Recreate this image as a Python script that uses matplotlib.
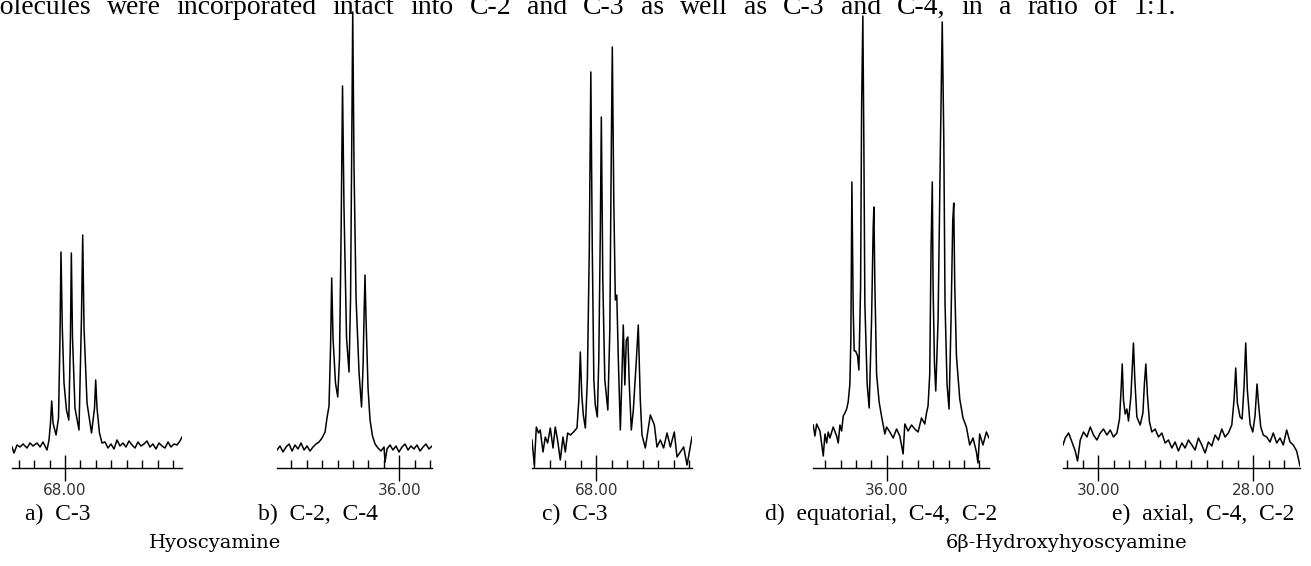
import matplotlib
matplotlib.use("Agg")
import matplotlib.pyplot as plt

W, H = 1311, 566

# ---- spectra: chemical shift (ppm) and intensity (a.u.) ----
a_ppm = [68.686, 68.660, 68.621, 68.582, 68.543, 68.492, 68.453, 68.414, 68.362, 68.323,
         68.285, 68.233, 68.207, 68.188, 68.172, 68.155, 68.116, 68.084, 68.065, 68.052,
         68.035, 68.013, 67.981, 67.951, 67.930, 67.918, 67.903, 67.871, 67.819, 67.787,
         67.771, 67.754, 67.715, 67.657, 67.618, 67.603, 67.586, 67.554, 67.521, 67.482,
         67.444, 67.405, 67.366, 67.327, 67.288, 67.250, 67.211, 67.172, 67.133, 67.094,
         67.056, 67.017, 66.978, 66.939, 66.900, 66.862, 66.823, 66.784, 66.745, 66.706,
         66.667, 66.629, 66.590, 66.551, 66.512, 66.486]
a_int = [21, 15, 23, 21, 24, 20, 25, 22, 25, 21,
         26, 18, 28, 45, 67, 45, 33, 50, 130, 216,
         140, 85, 58, 48, 130, 215, 130, 60, 38, 150,
         233, 140, 65, 35, 60, 88, 60, 35, 25, 26,
         20, 24, 19, 28, 22, 25, 21, 27, 23, 20,
         26, 22, 24, 27, 21, 24, 19, 25, 22, 20,
         26, 21, 24, 23, 27, 31]

b_ppm = [37.583, 37.544, 37.505, 37.466, 37.427, 37.388, 37.350, 37.311, 37.272, 37.233,
         37.194, 37.156, 37.117, 37.078, 37.039, 37.000, 36.961, 36.936, 36.910, 36.890,
         36.875, 36.858, 36.826, 36.797, 36.774, 36.754, 36.735, 36.716, 36.683, 36.651,
         36.631, 36.615, 36.603, 36.586, 36.560, 36.521, 36.489, 36.470, 36.454, 36.444,
         36.431, 36.405, 36.379, 36.347, 36.314, 36.276, 36.237, 36.198, 36.185, 36.159,
         36.120, 36.082, 36.043, 36.004, 35.965, 35.926, 35.887, 35.849, 35.810, 35.771,
         35.732, 35.693, 35.655, 35.616, 35.577]
b_int = [18, 22, 16, 21, 24, 17, 23, 19, 25, 18,
         22, 17, 21, 24, 26, 30, 36, 50, 62, 120,
         190, 130, 85, 71, 110, 230, 382, 260, 130, 96,
         170, 330, 456, 300, 170, 95, 61, 100, 160, 193,
         150, 80, 48, 32, 24, 20, 17, 21, 6, 19,
         23, 18, 22, 16, 21, 24, 18, 22, 19, 23,
         17, 21, 24, 19, 22]

c_ppm = [68.832, 68.802, 68.776, 68.747, 68.725, 68.690, 68.660, 68.630, 68.595, 68.560,
         68.531, 68.501, 68.466, 68.431, 68.401, 68.371, 68.336, 68.294, 68.250, 68.226,
         68.207, 68.188, 68.168, 68.142, 68.116, 68.091, 68.071, 68.052, 68.032, 68.013,
         67.987, 67.968, 67.948, 67.935, 67.916, 67.890, 67.851, 67.825, 67.806, 67.793,
         67.774, 67.754, 67.735, 67.715, 67.689, 67.670, 67.651, 67.631, 67.612, 67.592,
         67.573, 67.547, 67.521, 67.482, 67.457, 67.431, 67.409, 67.366, 67.301, 67.249,
         67.215, 67.172, 67.129, 67.085, 67.042, 66.991, 66.956, 66.913, 66.870, 66.826,
         66.762]
c_int = [28, 3, 41, 35, 38, 16, 31, 25, 40, 20,
         41, 28, 8, 31, 16, 35, 33, 36, 40, 68,
         116, 73, 53, 40, 88, 218, 396, 218, 88, 63,
         51, 108, 238, 351, 188, 88, 58, 138, 318, 421,
         268, 168, 173, 108, 38, 88, 143, 83, 128, 131,
         83, 38, 58, 108, 143, 68, 33, 20, 53, 43,
         21, 28, 20, 35, 21, 36, 11, 16, 21, 3,
         31]

d_ppm = [36.954, 36.932, 36.910, 36.867, 36.824, 36.802, 36.780, 36.760, 36.738, 36.695,
         36.651, 36.630, 36.608, 36.586, 36.565, 36.543, 36.521, 36.501, 36.479, 36.466,
         36.453, 36.436, 36.423, 36.405, 36.379, 36.362, 36.340, 36.327, 36.311, 36.298,
         36.285, 36.255, 36.229, 36.198, 36.177, 36.168, 36.155, 36.133, 36.100, 36.069,
         36.026, 36.004, 35.961, 35.918, 35.874, 35.832, 35.789, 35.767, 35.724, 35.680,
         35.638, 35.595, 35.551, 35.508, 35.486, 35.466, 35.444, 35.427, 35.411, 35.401,
         35.383, 35.366, 35.336, 35.305, 35.282, 35.262, 35.246, 35.220, 35.194, 35.168,
         35.146, 35.133, 35.120, 35.098, 35.055, 35.013, 34.969, 34.926, 34.883, 34.839,
         34.819, 34.797, 34.754, 34.710, 34.676]
d_int = [43, 32, 44, 37, 12, 34, 25, 36, 30, 41,
         32, 25, 43, 37, 52, 55, 59, 66, 84, 130,
         286, 158, 117, 117, 112, 98, 183, 361, 452, 326,
         165, 84, 60, 148, 240, 261, 183, 94, 66, 52,
         34, 41, 36, 30, 39, 32, 14, 44, 37, 43,
         39, 36, 50, 44, 55, 62, 94, 219, 286, 183,
         105, 77, 148, 326, 446, 330, 165, 84, 59, 148,
         247, 265, 183, 112, 69, 50, 41, 23, 30, 16,
         5, 34, 23, 36, 30]

e_ppm = [30.455, 30.426, 30.383, 30.339, 30.297, 30.267, 30.232, 30.190, 30.146, 30.103,
         30.061, 30.017, 29.974, 29.932, 29.888, 29.845, 29.803, 29.759, 29.725, 29.703,
         29.690, 29.674, 29.652, 29.630, 29.609, 29.578, 29.558, 29.545, 29.527, 29.501,
         29.458, 29.423, 29.403, 29.385, 29.364, 29.338, 29.307, 29.265, 29.222, 29.178,
         29.136, 29.093, 29.049, 29.007, 28.964, 28.920, 28.878, 28.835, 28.791, 28.749,
         28.706, 28.662, 28.620, 28.577, 28.533, 28.491, 28.448, 28.404, 28.362, 28.319,
         28.275, 28.246, 28.224, 28.203, 28.168, 28.142, 28.117, 28.095, 28.074, 28.039,
         28.004, 27.975, 27.949, 27.927, 27.901, 27.868, 27.824, 27.781, 27.739, 27.695,
         27.652, 27.610, 27.566, 27.523, 27.481, 27.437, 27.394]
e_int = [23, 30, 35, 26, 17, 7, 28, 36, 31, 41,
         33, 28, 35, 39, 33, 38, 31, 35, 49, 81,
         104, 68, 54, 59, 47, 72, 104, 125, 88, 51,
         43, 55, 85, 104, 72, 46, 36, 39, 31, 35,
         25, 28, 20, 26, 17, 25, 20, 28, 23, 18,
         30, 23, 15, 26, 22, 33, 28, 39, 31, 35,
         43, 68, 100, 65, 51, 49, 81, 125, 78, 44,
         36, 52, 84, 62, 41, 33, 31, 26, 35, 25,
         30, 23, 38, 26, 23, 17, 2]

# ---- axis ticks ----
a_minor = [68.6, 68.4, 68.2, 67.8, 67.6, 67.4, 67.2, 67.0, 66.8, 66.6]
a_major = [68.0]
b_minor = [37.4, 37.2, 37.0, 36.8, 36.6, 36.4, 36.2, 35.8, 35.6]
b_major = [36.0]
c_minor = [68.8, 68.6, 68.4, 68.2, 67.8, 67.6, 67.4, 67.2, 67.0, 66.8]
c_major = [68.0]
d_minor = [36.8, 36.6, 36.4, 36.2, 35.8, 35.6, 35.4, 35.2, 35.0, 34.8]
d_major = [36.0]
e_minor = [30.4, 30.2, 29.8, 29.6, 29.4, 29.2, 29.0, 28.8, 28.6, 28.4, 28.2, 27.8, 27.6]
e_major = [30.0, 28.0]

panel_labels = ["a)  C-3", "b)  C-2,  C-4", "c)  C-3",
                "d)  equatorial,  C-4,  C-2", "e)  axial,  C-4,  C-2"]
compounds = ["Hyoscyamine", "6\u03b2-Hydroxyhyoscyamine"]

top_words = ("molecules were incorporated intact into C-2 and C-3 as well as "
             "C-3 and C-4, in a ratio of 1:1.").split()

panels = [
    # (ppm, int, xlim, major, minor, axes left px, axes right px)
    (a_ppm, a_int, (68.686, 66.486), a_major, a_minor, 12, 182),
    (b_ppm, b_int, (37.583, 35.577), b_major, b_minor, 277, 432),
    (c_ppm, c_int, (68.832, 66.762), c_major, c_minor, 532, 692),
    (d_ppm, d_int, (36.957, 34.676), d_major, d_minor, 813, 989),
    (e_ppm, e_int, (30.455, 27.394), e_major, e_minor, 1063, 1300),
]

fig = plt.figure(figsize=(W / 100, H / 100), dpi=100)
axis_y = 468  # px from the top

for ppm, inten, xlim, major, minor, x0, x1 in panels:
    ax = fig.add_axes([x0 / W, (H - axis_y) / H, (x1 - x0) / W, axis_y / H])
    ax.plot(ppm, inten, color="black", lw=1.1)
    ax.set_xlim(*xlim)
    ax.set_ylim(0, axis_y)
    for s in ["left", "right", "top"]:
        ax.spines[s].set_visible(False)
    ax.spines["bottom"].set_linewidth(1.0)
    ax.set_yticks([])
    ax.set_facecolor("none")
    ax.set_xticks(major, ["%.2f" % m for m in major])
    ax.set_xticks(minor, minor=True)
    ax.tick_params(axis="x", which="major", direction="inout", length=19, width=1.0,
                   pad=1.5, labelsize=11, labelcolor="#333333")
    ax.tick_params(axis="x", which="minor", direction="in", length=6, width=1.0)

# panel captions
label_x = [58, 318, 575, 881, 1203]
for lab, x in zip(panel_labels, label_x):
    fig.text(x / W, 1 - 514 / H, lab, ha="center", va="center",
             fontsize=17, family="Liberation Serif")

fig.text(215 / W, 1 - 543 / H, compounds[0], ha="center", va="center",
         fontsize=14, family="DejaVu Serif")
fig.text(1067 / W, 1 - 543 / H, compounds[1], ha="center", va="center",
         fontsize=14, family="DejaVu Serif")

# justified line of body text, clipped at the top of the page
r = fig.canvas.get_renderer()
texts = [fig.text(0, 1 - 14 / H, w, ha="left", va="baseline",
                  fontsize=20, family="Liberation Serif") for w in top_words]
widths = [t.get_window_extent(r).width for t in texts]
x_start, x_end = -22, 1176
gap = (x_end - x_start - sum(widths)) / (len(texts) - 1)
x = x_start
for t, wd in zip(texts, widths):
    t.set_x(x / W)
    x += wd + gap

fig.savefig("out.png", dpi=100)
